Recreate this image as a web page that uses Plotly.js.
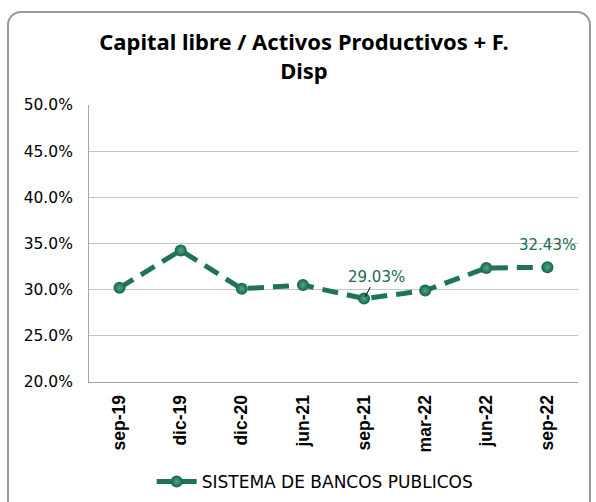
<!DOCTYPE html>
<html>
<head>
<meta charset="utf-8">
<script src="https://cdn.plot.ly/plotly-3.0.1.min.js"></script>
<style>
  html, body { margin: 0; padding: 0; background: #ffffff; }
  #wrap { position: relative; width: 596px; height: 502px; overflow: hidden; }
  #chart { position: absolute; left: 0; top: 0; width: 596px; height: 502px; }
  #frame { position: absolute; left: 7px; top: 11px; width: 580px; height: 520px;
           border: 2px solid #9a9a9a; border-radius: 14px; pointer-events: none; }
</style>
</head>
<body>
<div id="wrap">
  <div id="chart"></div>
  <div id="frame"></div>
</div>
<script>
const categories = ['sep-19', 'dic-19', 'dic-20', 'jun-21', 'sep-21', 'mar-22', 'jun-22', 'sep-22'];
const seriesName = 'SISTEMA DE BANCOS PUBLICOS';
const values = [30.2, 34.25, 30.1, 30.5, 29.03, 29.9, 32.35, 32.43];
const yTicks = [20, 25, 30, 35, 40, 45, 50];
const labelledIdx = [4, 7];

const green = '#1e7458';
const labelColor = '#1d6a51';

const trace = {
  x: categories,
  y: values,
  type: 'scatter',
  mode: 'lines+markers',
  name: seriesName,
  line: { color: green, width: 5, dash: '16px,9px' },
  marker: { size: 12, color: '#17634a', gradient: { type: 'radial', color: '#4fa784' },
            line: { width: 0 } },
  cliponaxis: false
};

const annotations = [
  {
    x: categories[labelledIdx[0]], y: values[labelledIdx[0]], xref: 'x', yref: 'y',
    text: values[labelledIdx[0]].toFixed(2) + '%',
    showarrow: true, arrowhead: 0, arrowwidth: 1, arrowcolor: '#000000',
    ax: 12, ay: -22, standoff: 2,
    font: { family: 'DejaVu Sans', size: 15, color: labelColor }
  },
  {
    x: categories[labelledIdx[1]], y: values[labelledIdx[1]], xref: 'x', yref: 'y',
    text: values[labelledIdx[1]].toFixed(2) + '%',
    showarrow: false, yshift: 22,
    font: { family: 'DejaVu Sans', size: 15, color: labelColor }
  }
];

const layout = {
  width: 596, height: 502,
  paper_bgcolor: 'rgba(0,0,0,0)',
  plot_bgcolor: 'rgba(0,0,0,0)',
  margin: { l: 89, r: 18, t: 105, b: 120 },
  title: {
    text: 'Capital libre / Activos Productivos + F.<br>Disp',
    font: { family: 'Noto Sans', size: 22, color: '#000000', weight: 'bold' },
    xref: 'container', x: 0.51, xanchor: 'center',
    yref: 'container', y: 1 - 50 / 502, yanchor: 'top'
  },
  xaxis: {
    type: 'category',
    tickangle: -90,
    tickfont: { family: 'Liberation Sans', size: 17.5, color: '#000000', weight: 'bold' },
    ticklabelstandoff: 5,
    showgrid: false,
    showline: true, linecolor: '#a6a6a6', linewidth: 1,
    ticks: '', ticklen: 0,
    zeroline: false,
    range: [-0.5, categories.length - 0.5]
  },
  yaxis: {
    range: [20, 50],
    tickvals: yTicks,
    ticktext: yTicks.map(v => v.toFixed(1) + '%'),
    tickfont: { family: 'DejaVu Sans', size: 15.5, color: '#000000' },
    ticklabelstandoff: 12,
    showgrid: true, gridcolor: '#c4c4c4', gridwidth: 1,
    showline: true, linecolor: '#a6a6a6', linewidth: 1,
    zeroline: false,
    ticks: ''
  },
  showlegend: true,
  legend: {
    orientation: 'h',
    xref: 'container', x: 0.528, xanchor: 'center',
    yref: 'container', y: 1 - 482 / 502, yanchor: 'middle',
    font: { family: 'DejaVu Sans', size: 17, color: '#000000' },
    itemwidth: 40
  },
  annotations: annotations
};

Plotly.newPlot('chart', [trace], layout, { displayModeBar: false, staticPlot: true });
</script>
</body>
</html>
